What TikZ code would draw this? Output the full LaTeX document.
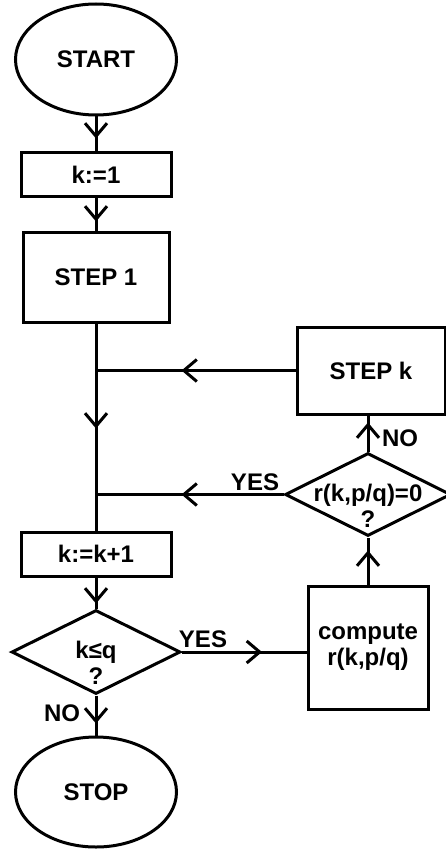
\documentclass[tikz,border=0pt]{standalone}
\usepackage{fontspec}
\setmainfont{Liberation Sans}
\usetikzlibrary{shapes.geometric,arrows.meta,decorations.markings}
\begin{document}
\begin{tikzpicture}[x=1pt,y=-1pt, line width=3pt,
  font=\fontsize{24}{26}\selectfont\bfseries,
  box/.style={draw, rectangle, inner sep=0pt, align=center},
  term/.style={draw, ellipse, inner sep=0pt, minimum width=161pt, minimum height=111pt},
  dia/.style={draw, diamond, inner sep=0pt},
  txt/.style={inner sep=0pt, align=center},
  flow/.style={postaction={decorate}, decoration={markings,
     mark=at position #1 with {\arrow{Straight Barb[length=13pt,width=22pt]}}}}
]
\path[use as bounding box, clip] (0,0) rectangle (446,850);

\node[term] (start) at (96,59.5) {START};
\node[box, minimum width=150pt, minimum height=44pt] (k1) at (96,175) {k:=1};
\node[box, minimum width=146pt, minimum height=90pt] (s1) at (96,277) {STEP 1};
\node[box, minimum width=148pt, minimum height=87pt] (sk) at (371,370.5) {STEP k};
\node[dia, minimum width=166pt, minimum height=83pt] (d2) at (368,494.5) {};
\node[txt] (d2t) at (368,506) {r(k,p/q)=0\\?};
\node[box, minimum width=150pt, minimum height=44pt] (kk) at (96,554) {k:=k+1};
\node[dia, minimum width=169pt, minimum height=84pt] (d1) at (96,652) {};
\node[txt] (d1t) at (96,663) {k≤q\\?};
\node[box, minimum width=120pt, minimum height=123pt] (comp) at (368,647.5) {compute\\r(k,p/q)};
\node[term, minimum height=110pt] (stop) at (96,792) {STOP};

\node[txt] (yes1) at (203,639) {YES};
\node[txt] (no1) at (62,713) {NO};
\node[txt] (yes2) at (255,482) {YES};
\node[txt] (no2) at (400,438) {NO};

\draw[flow=22pt] (start.south) -- (k1.north);
\draw[flow=23pt] (k1.south) -- (s1.north);
\draw[flow=105pt] (s1.south) -- (kk.north);
\draw[flow=114pt] (sk.west) -- (sk.west -| s1.south);
\draw[flow=102pt] (d2.west) -- (d2.west -| s1.south);
\draw[flow=26pt] (kk.south) -- (d1.north);
\draw[flow=80pt] (d1.east) -- (d1.east -| comp.west);
\draw[flow=34pt] (comp.north) -- (d2.south);
\draw[flow=29pt] (d2.north) -- (d2.north |- sk.south);
\draw[flow=28pt] (d1.south) -- (stop.north);
\end{tikzpicture}
\end{document}
